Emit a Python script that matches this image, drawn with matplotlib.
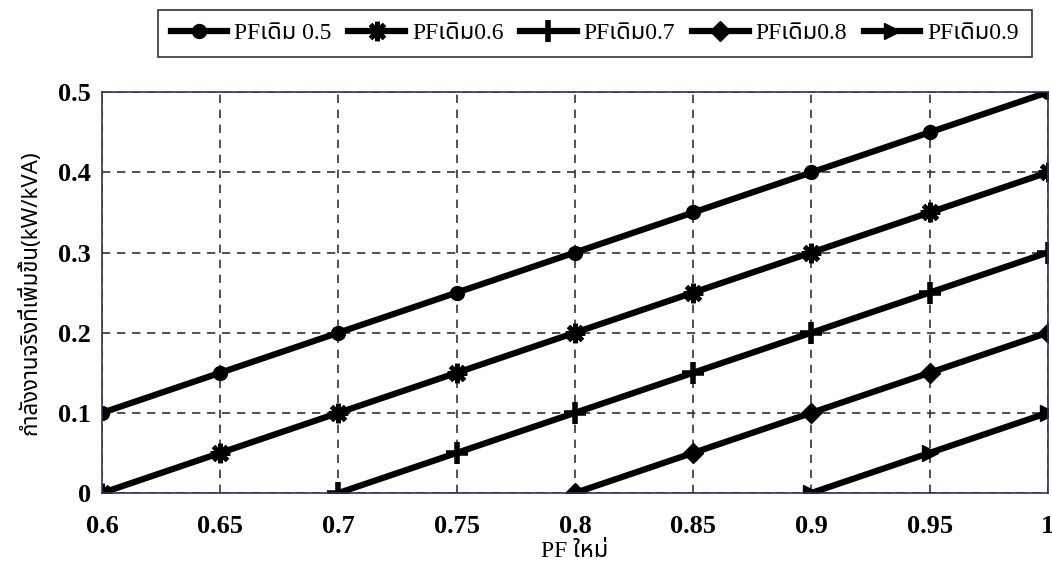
import matplotlib
matplotlib.use('Agg')
import matplotlib.pyplot as plt
from matplotlib import font_manager

# ข้อมูล
pf_new = [0.6, 0.65, 0.7, 0.75, 0.8, 0.85, 0.9, 0.95, 1.0]
pf05 = [0.1, 0.15, 0.2, 0.25, 0.3, 0.35, 0.4, 0.45, 0.5]
pf06 = [0.0, 0.05, 0.1, 0.15, 0.2, 0.25, 0.3, 0.35, 0.4]
pf07_x = [0.7, 0.75, 0.8, 0.85, 0.9, 0.95, 1.0]
pf07 = [0.0, 0.05, 0.1, 0.15, 0.2, 0.25, 0.3]
pf08_x = [0.8, 0.85, 0.9, 0.95, 1.0]
pf08 = [0.0, 0.05, 0.1, 0.15, 0.2]
pf09_x = [0.9, 0.95, 1.0]
pf09 = [0.0, 0.05, 0.1]
labels = ['PFเดิม 0.5', 'PFเดิม0.6', 'PFเดิม0.7', 'PFเดิม0.8', 'PFเดิม0.9']
x_ticks = [0.6, 0.65, 0.7, 0.75, 0.8, 0.85, 0.9, 0.95, 1.0]
x_ticklabels = ['0.6', '0.65', '0.7', '0.75', '0.8', '0.85', '0.9', '0.95', '1']
y_ticks = [0, 0.1, 0.2, 0.3, 0.4, 0.5]
y_ticklabels = ['0', '0.1', '0.2', '0.3', '0.4', '0.5']

names = {f.name for f in font_manager.fontManager.ttflist}
thai = [n for n in ['Noto Sans Thai', 'Noto Serif Thai', 'Loma', 'Garuda', 'Tlwg Typo',
                    'Norasi', 'Kinnari', 'Waree', 'Sarabun'] if n in names]
fams = ['Liberation Serif'] + thai + ['DejaVu Sans']
plt.rcParams['font.family'] = fams

fig = plt.figure(figsize=(10.52, 5.66), dpi=100)
ax = fig.add_axes([0.097, 0.129, 0.899, 0.708])

style = dict(color='black', lw=4.5)
ax.plot(pf_new, pf05, marker='o', markersize=10, label=labels[0], **style)
ax.plot(pf_new, pf06, marker=(8, 2, 0), markersize=14, markeredgewidth=3.5,
        label=labels[1], **style)
ax.plot(pf07_x, pf07, marker='+', markersize=16, markeredgewidth=4, label=labels[2], **style)
ax.plot(pf08_x, pf08, marker='D', markersize=10, label=labels[3], **style)
ax.plot(pf09_x, pf09, marker='>', markersize=12, label=labels[4], **style)

ax.set_xlim(0.6, 1.0)
ax.set_ylim(0, 0.5)
ax.set_xticks(x_ticks)
ax.set_xticklabels(x_ticklabels)
ax.set_yticks(y_ticks)
ax.set_yticklabels(y_ticklabels)
ax.tick_params(axis='x', labelsize=19, length=0, pad=16)
ax.tick_params(axis='y', labelsize=19, length=0, pad=8)
for t in ax.get_xticklabels() + ax.get_yticklabels():
    t.set_fontweight('bold')
ax.grid(True, color='#333333', linestyle=(0, (5, 4)), lw=1.2)
for s in ax.spines.values():
    s.set_color('#333355')
    s.set_linewidth(1.2)

ax.set_xlabel('PF ใหม่', fontsize=17, labelpad=2)
ax.set_ylabel('กำลังงานจริงที่เพิ่มขึ้น(kW/kVA)', fontsize=16, family=thai + ['DejaVu Sans'],
              fontweight='bold', labelpad=12)

leg = ax.legend(loc='upper center', bbox_to_anchor=(0.521, 1.235), ncol=5,
                prop={'size': 17},
                frameon=True, fancybox=False, edgecolor='black', handlelength=2.4,
                handletextpad=0.3, columnspacing=0.7, borderpad=0.55)
leg.get_frame().set_linewidth(1.2)

fig.savefig('out.png', dpi=100)
